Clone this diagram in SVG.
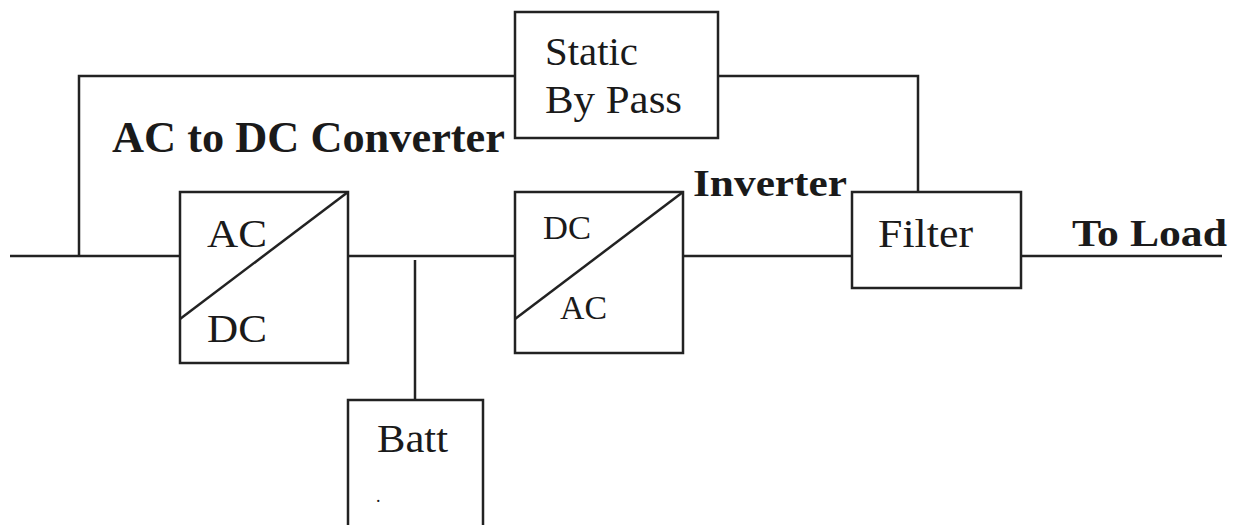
<svg xmlns="http://www.w3.org/2000/svg" width="1238" height="525" viewBox="0 0 1238 525">
<style>
.box{fill:#fff;stroke:#222;stroke-width:2.5}
.ln{fill:none;stroke:#222;stroke-width:2.5}
.t{font-family:"Liberation Serif","Times New Roman",serif;fill:#1a1a1a}
.b{font-weight:bold}
</style>
<rect width="1238" height="525" fill="#fff"/>
<g id="connectors">
<polyline class="ln" points="10,256 180,256"/>
<polyline class="ln" points="79,256 79,76 515,76"/>
<polyline class="ln" points="718,76 918,76 918,192"/>
<polyline class="ln" points="348,256 515,256"/>
<polyline class="ln" points="415,260 415,400"/>
<polyline class="ln" points="683,256 852,256"/>
<polyline class="ln" points="1021,256 1222,256"/>
</g>
<g id="static-bypass">
<rect class="box" x="515" y="12" width="203" height="126"/>
<text class="t" x="545" y="65" font-size="40" textLength="93" lengthAdjust="spacingAndGlyphs">Static</text>
<text class="t" x="545" y="113" font-size="40" textLength="137" lengthAdjust="spacingAndGlyphs">By Pass</text>
</g>
<g id="label-acdc">
<text class="t b" x="112" y="152" font-size="44" textLength="393" lengthAdjust="spacingAndGlyphs">AC to DC Converter</text>
</g>
<g id="rectifier">
<rect class="box" x="180" y="192" width="168" height="171"/>
<line class="ln" x1="180" y1="319" x2="348" y2="192"/>
<text class="t" x="207" y="247" font-size="41" textLength="60" lengthAdjust="spacingAndGlyphs">AC</text>
<text class="t" x="207" y="342" font-size="41" textLength="60" lengthAdjust="spacingAndGlyphs">DC</text>
</g>
<g id="inverter">
<rect class="box" x="515" y="192" width="168" height="161"/>
<line class="ln" x1="515" y1="319" x2="683" y2="192"/>
<text class="t" x="543" y="239" font-size="33" textLength="48" lengthAdjust="spacingAndGlyphs">DC</text>
<text class="t" x="560" y="319" font-size="33" textLength="47" lengthAdjust="spacingAndGlyphs">AC</text>
</g>
<g id="label-inverter">
<text class="t b" x="693" y="196" font-size="37" textLength="154" lengthAdjust="spacingAndGlyphs">Inverter</text>
</g>
<g id="filter">
<rect class="box" x="852" y="192" width="169" height="96"/>
<text class="t" x="878" y="247" font-size="41" textLength="95" lengthAdjust="spacingAndGlyphs">Filter</text>
</g>
<g id="label-load">
<text class="t b" x="1072" y="246" font-size="37" textLength="155" lengthAdjust="spacingAndGlyphs">To Load</text>
</g>
<g id="battery">
<rect class="box" x="348" y="400" width="135" height="140"/>
<text class="t" x="377" y="452" font-size="40" textLength="71" lengthAdjust="spacingAndGlyphs">Batt</text>
<text class="t" x="376" y="502" font-size="18">.</text>
</g>
</svg>
